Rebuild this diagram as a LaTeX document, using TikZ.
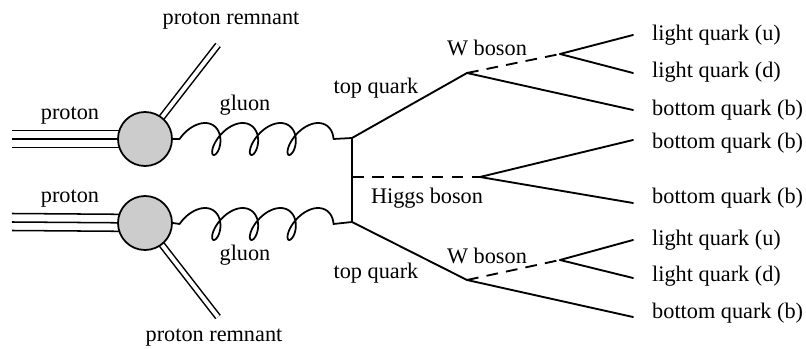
\documentclass[tikz,border=0pt]{standalone}
\usepackage{fontspec}
\setmainfont{Liberation Serif}
\usetikzlibrary{positioning}
\tikzset{
  quarkline/.style={line width=1.6pt, line cap=round},
  bosonline/.style={line width=1.6pt, dash pattern=on 10pt off 7pt},
  gluonline/.style={line width=1.5pt, line join=round},
  beamline/.style={line width=1.3pt},
  remnantline/.style={line width=1.3pt, double, double distance=3.4pt},
  blob/.style={circle, draw, line width=1.5pt, fill=black!20, minimum size=1.62cm, inner sep=0pt},
  partlabel/.style={font=\fontsize{19}{22}\selectfont, inner sep=0pt},
}

\begin{document}
\begin{tikzpicture}[x=0.03cm, y=-0.03cm]
\useasboundingbox (0,0) rectangle (806,349);
\coordinate (cA) at (145,139);
\coordinate (cB) at (145,223);
\coordinate (inA) at (12,139);
\coordinate (inB) at (12,222);
\coordinate (remA) at (218,45);
\coordinate (remB) at (218,317);
\coordinate (vtop) at (352,138);
\coordinate (vbot) at (352,222);
\coordinate (hgg) at (352,177);
\coordinate (hdec) at (480,177);
\coordinate (wA) at (467,73);
\coordinate (wB) at (467,280);
\coordinate (wdA) at (560,54);
\coordinate (wdB) at (560,260);
\coordinate (eu1) at (633,35);
\coordinate (ed1) at (633,73);
\coordinate (eb1) at (633,110);
\coordinate (eh1) at (633,140);
\coordinate (eh2) at (633,203);
\coordinate (eu2) at (633,240);
\coordinate (ed2) at (633,278);
\coordinate (eb2) at (633,317);
\foreach \dy in {-8.5,0,8.5} {
  \draw[beamline] ([yshift=-\dy*0.03cm]inA) -- ([yshift=-\dy*0.03cm]cA);
  \draw[beamline] ([yshift=-\dy*0.03cm]inB) -- ([yshift=-\dy*0.03cm]cB);
}
\draw[remnantline] (cA) -- (remA);
\draw[remnantline] (cB) -- (remB);
\node[blob] (blobA) at (cA) {};
\node[blob] (blobB) at (cB) {};
\draw[gluonline] (blobA.east) -- plot[domain=-1.5708:20.42, samples=160, smooth]
  ({200+6*\x+11*sin(\x r)+5*cos(\x r)}, {139-16*cos(\x r)}) -- (vtop);
\draw[gluonline] (blobB.east) -- plot[domain=-1.5708:20.42, samples=160, smooth]
  ({200+6*\x+11*sin(\x r)+5*cos(\x r)}, {224-16*cos(\x r)}) -- (vbot);
\draw[quarkline] (vtop) -- (vbot);
\draw[quarkline] (vtop) -- (wA);
\draw[quarkline] (vbot) -- (wB);
\draw[bosonline] (hgg) -- (hdec);
\draw[bosonline] (wA) -- (wdA);
\draw[bosonline] (wB) -- (wdB);
\draw[quarkline] (wdA) -- (eu1);
\draw[quarkline] (wdA) -- (ed1);
\draw[quarkline] (wA) -- (eb1);
\draw[quarkline] (hdec) -- (eh1);
\draw[quarkline] (hdec) -- (eh2);
\draw[quarkline] (wdB) -- (eu2);
\draw[quarkline] (wdB) -- (ed2);
\draw[quarkline] (wB) -- (eb2);
\node[partlabel] (protA) at (70,116) {proton};
\node[partlabel] (protB) at (70,199) {proton};
\node[partlabel] (remlabA) at (231,21) {proton remnant};
\node[partlabel] (remlabB) at (214,338) {proton remnant};
\node[partlabel] (gluA) at (245,105) {gluon};
\node[partlabel] (gluB) at (245,255) {gluon};
\node[partlabel] (topA) at (376,88) {top quark};
\node[partlabel] (topB) at (376,273) {top quark};
\node[partlabel] (higgs) at (427,198) {Higgs boson};
\node[partlabel] (wlabA) at (487,48) {W boson};
\node[partlabel] (wlabB) at (487,256) {W boson};
\node[partlabel, anchor=west] (lu1) at (652,35) {light quark (u)};
\node[partlabel, anchor=west] (ld1) at (652,72) {light quark (d)};
\node[partlabel, anchor=west] (lb1) at (652,110) {bottom quark (b)};
\node[partlabel, anchor=west] (lh1) at (652,143) {bottom quark (b)};
\node[partlabel, anchor=west] (lh2) at (652,198) {bottom quark (b)};
\node[partlabel, anchor=west] (lu2) at (652,240) {light quark (u)};
\node[partlabel, anchor=west] (ld2) at (652,276) {light quark (d)};
\node[partlabel, anchor=west] (lb2) at (652,313) {bottom quark (b)};
\end{tikzpicture}
\end{document}
